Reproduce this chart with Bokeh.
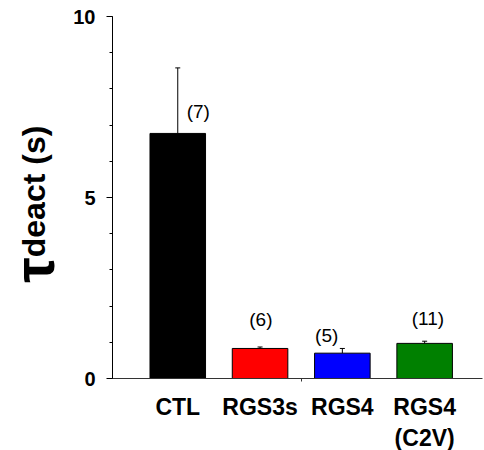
import math
from bokeh.plotting import figure
from bokeh.layouts import row
from bokeh.models import (ColumnDataSource, FixedTicker, SingleIntervalTicker, Whisker,
                          TeeHead, LabelSet, Range1d)
from bokeh.core.properties import value
from bokeh.embed import file_html
from bokeh.resources import INLINE

# ---- data ----
groups = ["CTL", "RGS3s", "RGS4", "RGS4\n(C2V)"]
means = [6.77, 0.83, 0.70, 0.97]
sems = [1.81, 0.04, 0.13, 0.06]
n_labels = ["(7)", "(6)", "(5)", "(11)"]
colors = ["#000000", "#ff0000", "#0000ff", "#008000"]
y_major_step = 5
y_minor_per_major = 5

xs = list(range(len(groups)))
uppers = [m + s for m, s in zip(means, sems)]

# annotation placement (data units)
lab_x = [0.25, 1.01, 1.81, 3.04]
lab_y = [7.38, 1.62, 1.18, 1.65]
title_y = 3.35

FONT = "Liberation Sans"

p = figure(frame_width=370, frame_height=362, output_backend="svg",
           toolbar_location=None,
           x_range=Range1d(-0.793, 3.703), y_range=Range1d(0, 10),
           min_border_left=41, min_border_right=1, min_border_top=16,
           min_border_bottom=72)
p.outline_line_color = None
p.xgrid.visible = False
p.ygrid.visible = False
p.background_fill_color = "white"

src = ColumnDataSource(dict(x=xs, top=means, upper=uppers, color=colors))
p.vbar(x="x", top="top", bottom=0, width=0.675, source=src,
       fill_color="color", line_color="black", line_width=1)

w = Whisker(base="x", lower="top", upper="upper", source=src, dimension="height",
            line_color="black", line_width=1,
            upper_head=TeeHead(size=5, line_color="black", line_width=1),
            lower_head=None)
p.add_layout(w)

lsrc = ColumnDataSource(dict(x=lab_x, y=lab_y, t=n_labels))
p.add_layout(LabelSet(x="x", y="y", text="t", source=lsrc, text_align="center",
                      text_baseline="middle", text_font=value(FONT),
                      text_font_size="19px", text_color="black"))

# y axis
p.yaxis.ticker = SingleIntervalTicker(interval=y_major_step,
                                      num_minor_ticks=y_minor_per_major)
p.yaxis.major_tick_out = 6
p.yaxis.major_tick_in = 0
p.yaxis.minor_tick_out = 3
p.yaxis.minor_tick_in = 0
p.yaxis.axis_line_color = "black"
p.yaxis.major_tick_line_color = "black"
p.yaxis.minor_tick_line_color = "black"
p.yaxis.major_label_text_font = FONT
p.yaxis.major_label_text_font_style = "bold"
p.yaxis.major_label_text_font_size = "20px"
p.yaxis.major_label_text_color = "black"
p.yaxis.major_label_standoff = 11
p.yaxis.axis_label_standoff = 0

# x axis with category labels, small tick between 2nd and 3rd bar
p.xaxis.ticker = FixedTicker(ticks=xs, minor_ticks=[1.5])
p.xaxis.major_label_overrides = {i: g for i, g in zip(xs, groups)}
p.xaxis.major_tick_out = 0
p.xaxis.major_tick_in = 0
p.xaxis.minor_tick_out = 3
p.xaxis.minor_tick_in = 0
p.xaxis.minor_tick_line_color = "#333333"
p.xaxis.axis_line_color = "#333333"
p.xaxis.major_label_text_font = FONT
p.xaxis.major_label_text_font_style = "bold"
p.xaxis.major_label_text_font_size = "23px"
p.xaxis.major_label_text_color = "black"
p.xaxis.major_label_standoff = 12
p.xaxis.axis_label_standoff = 0

# left strip holding the y axis title (tau + "deact (s)")
left = figure(frame_width=70, frame_height=362, output_backend="svg",
              toolbar_location=None, x_range=Range1d(0, 70), y_range=p.y_range,
              min_border_left=0, min_border_right=0, min_border_top=16,
              min_border_bottom=72, x_axis_location=None, y_axis_location=None)
left.outline_line_color = None
left.xgrid.visible = False
left.ygrid.visible = False
left.text(x=[33], y=[title_y], text=["deact (s)"], angle=math.pi / 2,
          text_align="left", text_baseline="alphabetic", text_font=value(FONT),
          text_font_style="bold", text_font_size=value("32px"), text_color="black")
left.text(x=[33], y=[title_y], text=["τ"], angle=math.pi / 2,
          text_align="right", text_baseline="alphabetic", text_font=value(FONT),
          text_font_style="bold", text_font_size=value("57px"), text_color="black")

layout = row(left, p, spacing=0)
open("out.html", "w").write(file_html(layout, INLINE))
